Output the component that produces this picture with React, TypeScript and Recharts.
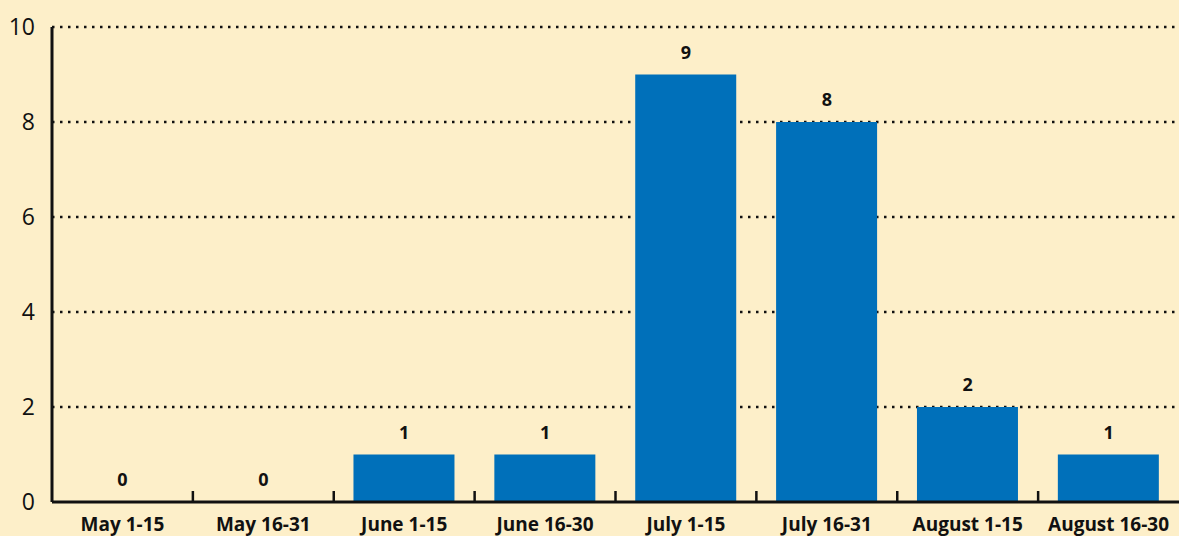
import { ComposedChart, Bar, Line, XAxis, YAxis, CartesianGrid } from "recharts";

const periods = ["May 1-15", "May 16-31", "June 1-15", "June 16-30", "July 1-15", "July 16-31", "August 1-15", "August 16-30"];
const counts = [0, 0, 1, 1, 9, 8, 2, 1];
const yTicks = [0, 2, 4, 6, 8, 10];

const data = periods.map((p, i) => ({ period: p, count: counts[i] }));

const FONT = "'Open Sans', 'Noto Sans', sans-serif";

const ValueLabel = (props: any) => {
  const { x, y, value } = props;
  return (
    <text x={x} y={y - 16} textAnchor="middle" fontSize={18} fontWeight={700} fill="#111" fontFamily={FONT}>
      {value}
    </text>
  );
};

// label under each category, plus an inward tick at the band's right edge
const CategoryTick = (props: any) => {
  const { x, y, payload, index } = props;
  const half = payload?.offset ?? 0;
  const axisY = y - 16;
  return (
    <g>
      <text x={x} y={y} dy="0.71em" textAnchor="middle" fontSize={19} fontWeight={700} fill="#111" fontFamily={FONT}>
        {payload.value}
      </text>
      {index < periods.length - 1 && half > 0 && (
        <line x1={x + half} x2={x + half} y1={axisY} y2={axisY - 11} stroke="#111" strokeWidth={2.5} />
      )}
    </g>
  );
};

export default function App() {
  return (
    <div style={{ position: "fixed", left: 0, top: 0, width: 1179, height: 536, background: "#FDEFC9", fontFamily: FONT }}>
      <ComposedChart width={1179} height={536} data={data} margin={{ top: 27, right: 0, left: 0, bottom: 0 }} barCategoryGap="14%">
        <CartesianGrid horizontal vertical={false} stroke="#111" strokeWidth={2.5} strokeDasharray="2.5 5.5"
          horizontalValues={[2, 4, 6, 8, 10]} />
        <XAxis dataKey="period" axisLine={{ stroke: "#111", strokeWidth: 3 }} tickLine={false}
          tickSize={0} tickMargin={16} height={34} interval={0} tick={<CategoryTick />} />
        <YAxis domain={[0, 10]} ticks={yTicks} width={52} axisLine={{ stroke: "#111", strokeWidth: 3 }} tickLine={false}
          tickMargin={11} tick={{ fontSize: 23, fill: "#111", fontFamily: FONT }} />
        <Bar dataKey="count" fill="#0070BA" isAnimationActive={false} />
        <Line dataKey="count" stroke="none" dot={false} activeDot={false} isAnimationActive={false}
          label={<ValueLabel />} />
      </ComposedChart>
    </div>
  );
}
